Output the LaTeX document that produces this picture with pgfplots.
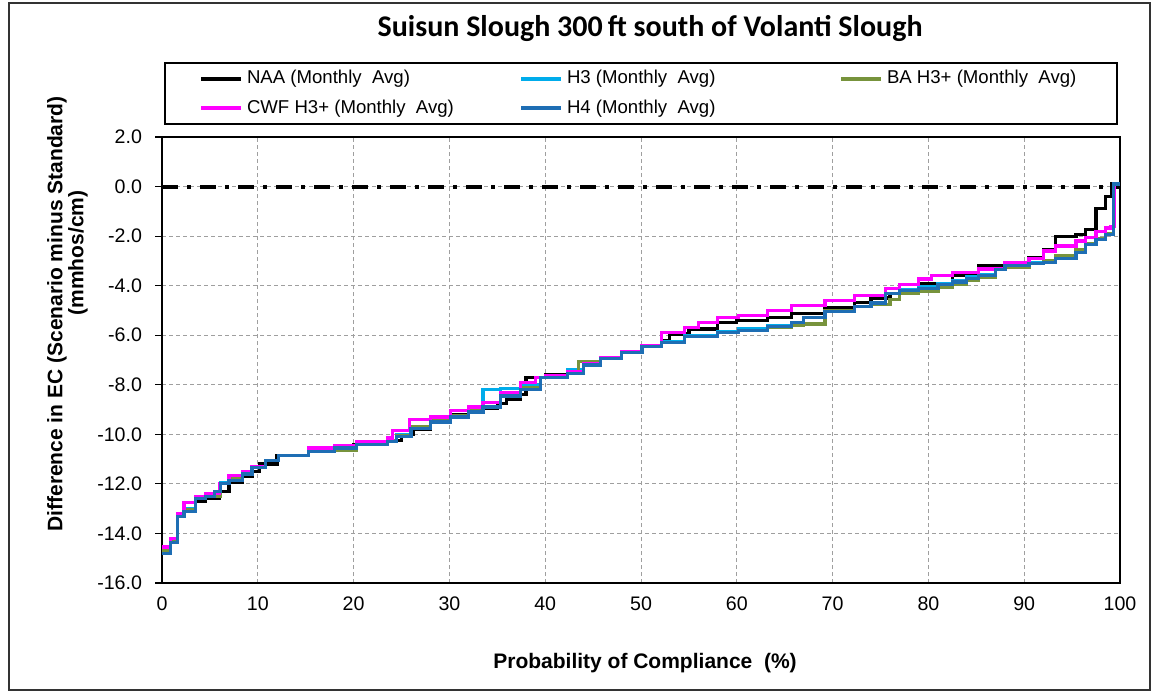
\documentclass[border=0pt]{standalone}
\usepackage{pgfplots}
\pgfplotsset{compat=1.18}
\usepackage{fontspec}
\setmainfont{Liberation Sans}
\newfontfamily\titlefont{Carlito}
\definecolor{cH3}{RGB}{0,172,235}
\definecolor{cBA}{RGB}{119,147,60}
\definecolor{cCWF}{RGB}{255,0,255}
\definecolor{cH4}{RGB}{30,110,180}
\begin{document}
\begin{tikzpicture}
\path (0pt,0pt) rectangle (577pt,346pt);
\draw[line width=0.6pt, black!80] (4.5pt,1pt) rectangle (575pt,344.5pt);
\begin{axis}[
  at={(81pt,54.5pt)}, anchor=south west,
  width=479pt, height=223pt, scale only axis,
  xmin=0, xmax=100, ymin=-16, ymax=2,
  xtick={0,10,...,100}, ytick={-16,-14,...,2},
  ytick pos=left,
  /pgf/number format/assume math mode=true,
  yticklabel style={/pgf/number format/.cd, fixed, fixed zerofill, precision=1, /tikz/.cd, xshift=-3pt},
  ticklabel style={font=\fontsize{9.8}{11}\selectfont},
  grid=major,
  major grid style={dash pattern=on 2pt off 1.5pt, gray!75, line width=0.45pt},
  axis line style={black, line width=0.8pt},
  xtick style={draw=none},
  ytick style={black, line width=0.6pt},
  tick align=outside, major tick length=3.5pt,
  legend columns=3,
  legend style={at={(0.5,1)}, anchor=south, yshift=6pt,
    draw=black, line width=1pt,
    font=\fontsize{9.3}{11}\selectfont,
    inner xsep=17pt, inner ysep=1.8pt, row sep=2.5pt,
    cells={anchor=west},
    /tikz/every even column/.append style={column sep=0pt}},
  legend image code/.code={\draw[#1, line width=2pt] (0pt,0pt) -- (20pt,0pt);},
]
\addplot[black, line width=2pt, dash pattern=on 8pt off 4.5pt on 2pt off 4.5pt, forget plot] coordinates {(0,0) (100,0)};
% NAA
\addplot[black, line width=1.6pt, const plot] coordinates {
(0,-14.7)(0.9,-14.3)(1.6,-13.3)(2.3,-13.0)(3.5,-12.7)(4.5,-12.6)(6,-12.3)(7,-11.95)(8.4,-11.7)(9.4,-11.5)(10.2,-11.2)(12,-10.85)(15.3,-10.7)(18,-10.55)(20,-10.4)(23.5,-10.25)(25,-10.0)(26.2,-9.8)(28,-9.5)(30.1,-9.2)(32,-9.05)(33.5,-8.95)(35,-8.75)(36,-8.6)(37.4,-8.4)(38,-7.7)(40,-7.6)(42.3,-7.5)(44,-7.1)(45.8,-6.9)(48,-6.65)(50.1,-6.4)(52.1,-6.2)(53,-5.95)(55,-5.75)(58,-5.5)(60,-5.4)(63.2,-5.3)(65.7,-5.13)(69.2,-4.87)(72.3,-4.67)(74,-4.5)(76,-4.3)(79,-3.93)(82.5,-3.6)(85.2,-3.2)(88,-3.07)(90.5,-2.87)(92,-2.53)(93.3,-2.0)(95.4,-1.93)(96.4,-1.73)(97.5,-0.87)(98.5,-0.4)(99.1,0.1)(100,0.1)};
\addlegendentry{\makebox[134pt][l]{NAA (Monthly\ \ Avg)}}
% H3
\addplot[cH3, line width=1.6pt, const plot] coordinates {
(0,-14.75)(0.9,-14.3)(1.6,-13.25)(2.3,-13.0)(3.5,-12.55)(4.5,-12.45)(6.1,-11.95)(7,-11.8)(8.4,-11.55)(9.4,-11.3)(10.8,-11.05)(12.2,-10.85)(15.3,-10.65)(20.3,-10.4)(23.5,-10.25)(24.5,-10.0)(26,-9.7)(28,-9.45)(30.1,-9.25)(32,-9.0)(33.5,-8.2)(35.3,-8.15)(37.4,-8.0)(39.5,-7.7)(42.3,-7.4)(44,-7.1)(45.8,-6.9)(48,-6.65)(50.1,-6.45)(52.1,-6.25)(54.5,-6.0)(58,-5.85)(60.2,-5.75)(63.2,-5.6)(65.7,-5.5)(67,-5.3)(69.2,-5.0)(72.3,-4.85)(74,-4.7)(75.5,-4.3)(77,-4.15)(79,-4.05)(81,-3.9)(82.5,-3.8)(84,-3.65)(85.2,-3.55)(87,-3.3)(88,-3.15)(90.5,-3.05)(92,-3.0)(93.3,-2.85)(95.4,-2.6)(96.4,-2.3)(97.5,-2.1)(98.5,-1.9)(99.3,0.1)(100,0.1)};
\addlegendentry{\makebox[134pt][l]{H3 (Monthly\ \ Avg)}}
% BA H3+
\addplot[cBA, line width=1.6pt, const plot] coordinates {
(0,-14.7)(0.9,-14.3)(1.6,-13.3)(2.3,-13.05)(3.5,-12.6)(4.5,-12.5)(6.1,-12.0)(7,-11.8)(8.4,-11.6)(9.4,-11.35)(10.8,-11.05)(12.2,-10.85)(15.3,-10.65)(20.3,-10.4)(23.5,-10.25)(24.5,-10.05)(26,-9.7)(28,-9.45)(30.1,-9.25)(32,-9.05)(33.5,-8.7)(35.3,-8.35)(37.4,-8.1)(39.5,-7.7)(42.3,-7.5)(43.5,-7.05)(45.8,-6.9)(48,-6.65)(50.1,-6.45)(52.1,-6.3)(54.5,-6.05)(58,-5.9)(60.2,-5.8)(63.2,-5.7)(65.7,-5.6)(67,-5.55)(69.2,-5.0)(72.3,-4.85)(74,-4.75)(76,-4.55)(77,-4.3)(79,-4.25)(81,-4.05)(82.5,-3.95)(84,-3.8)(85.2,-3.65)(87,-3.35)(88,-3.25)(90.5,-3.1)(92,-3.0)(93.3,-2.8)(95.4,-2.55)(96.4,-2.3)(97.5,-2.1)(98.5,-1.9)(99.3,0.1)(100,0.1)};
\addlegendentry{\makebox[96pt][l]{BA H3+ (Monthly\ \ Avg)}}
% CWF H3+
\addplot[cCWF, line width=1.6pt, const plot] coordinates {
(0,-14.55)(0.9,-14.2)(1.6,-13.2)(2.3,-12.75)(3.5,-12.5)(4.5,-12.4)(6,-12.0)(7,-11.65)(8.4,-11.5)(9.4,-11.3)(10.8,-11.05)(12.2,-10.85)(15.3,-10.55)(18,-10.45)(20.3,-10.3)(23.5,-10.15)(24.1,-9.85)(25.8,-9.4)(28,-9.3)(30.1,-9.05)(32,-8.9)(33.5,-8.7)(35.3,-8.3)(37.4,-7.9)(39,-7.7)(40,-7.63)(42.3,-7.45)(44,-7.15)(45.8,-6.9)(48,-6.65)(50.1,-6.4)(52.1,-5.88)(54.5,-5.68)(56,-5.5)(58,-5.28)(60.2,-5.2)(63.2,-5.0)(65.7,-4.8)(69.2,-4.6)(72.3,-4.4)(75.5,-4.13)(77,-3.95)(79,-3.73)(80.3,-3.6)(82.5,-3.47)(85.2,-3.33)(88,-3.07)(90.5,-2.9)(92,-2.6)(93.3,-2.4)(95.4,-2.2)(96.4,-2.05)(97.5,-1.8)(98.5,-1.67)(99.0,-1.6)(99.4,0.13)(100,0.13)};
\addlegendentry{\makebox[134pt][l]{CWF H3+ (Monthly\ \ Avg)}}
% H4
\addplot[cH4, line width=1.6pt, const plot] coordinates {
(0,-14.8)(0.9,-14.35)(1.6,-13.3)(2.3,-13.1)(3.5,-12.6)(4.5,-12.5)(5.5,-12.3)(6.1,-12.0)(7.0,-11.85)(8.4,-11.6)(9.4,-11.35)(10.8,-11.05)(12.2,-10.85)(15.3,-10.7)(18,-10.55)(20.3,-10.4)(23.5,-10.3)(24.5,-10.1)(26,-9.75)(28,-9.5)(30.1,-9.3)(32,-9.1)(33.5,-8.9)(35.3,-8.45)(37.4,-8.2)(39.5,-7.7)(42.3,-7.55)(44,-7.2)(45.8,-6.95)(48,-6.7)(50.1,-6.45)(52.1,-6.3)(54.5,-6.05)(58,-5.9)(60.2,-5.8)(63.2,-5.65)(65.7,-5.5)(67,-5.3)(69.2,-5.05)(72.3,-4.85)(74,-4.7)(75.5,-4.3)(77,-4.2)(79,-4.1)(81,-3.95)(82.5,-3.85)(84,-3.7)(85.2,-3.6)(87,-3.35)(88,-3.2)(90.5,-3.1)(92,-3.05)(93.3,-2.9)(95.4,-2.65)(96.4,-2.35)(97.5,-2.15)(98.5,-1.95)(99.3,0.1)(100,0.1)};
\addlegendentry{\makebox[134pt][l]{H4 (Monthly\ \ Avg)}}
\end{axis}
\node[font=\titlefont\bfseries\fontsize{15}{18}\selectfont] at (325pt,332pt) {Suisun Slough 300\,ft south of Volanti Slough};
\node[font=\bfseries\fontsize{10.5}{12}\selectfont] at (322.5pt,14.5pt) {Probability of Compliance\ \ (\%)};
\node[font=\bfseries\fontsize{10.5}{12}\selectfont, rotate=90] at (28.5pt,189pt) {Difference in EC (Scenario minus Standard)};
\node[font=\bfseries\fontsize{10.5}{12}\selectfont, rotate=90] at (39pt,219.5pt) {(mmhos/cm)};
\end{tikzpicture}
\end{document}
